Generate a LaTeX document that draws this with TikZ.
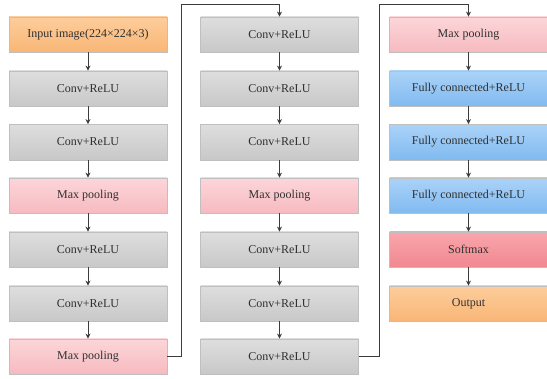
\documentclass[tikz,border=0pt]{standalone}
\usepackage{fontspec}
\setmainfont{Liberation Serif}
\usetikzlibrary{arrows.meta}
\definecolor{gTop}{HTML}{DEDEDE}\definecolor{gBot}{HTML}{C8C8C8}
\definecolor{oTop}{HTML}{FDCD9C}\definecolor{oBot}{HTML}{F9B676}
\definecolor{pTop}{HTML}{FCD6D9}\definecolor{pBot}{HTML}{F6BAC0}
\definecolor{bTop}{HTML}{ABD3F8}\definecolor{bBot}{HTML}{80BAF0}
\definecolor{sTop}{HTML}{F9A6AC}\definecolor{sBot}{HTML}{F18890}
\definecolor{lineC}{HTML}{3C3C3C}
\definecolor{txtC}{HTML}{303030}
\begin{document}
\begin{tikzpicture}[x=1pt,y=-1pt,
  box/.style={rectangle, minimum width=158pt, minimum height=35.5pt, inner sep=0pt,
    font=\fontsize{12}{14}\selectfont, text=txtC, draw=black!25, line width=0.3pt},
  graybox/.style={box, top color=gTop, bottom color=gBot},
  orangebox/.style={box, top color=oTop, bottom color=oBot},
  pinkbox/.style={box, top color=pTop, bottom color=pBot},
  bluebox/.style={box, top color=bTop, bottom color=bBot},
  softbox/.style={box, top color=sTop, bottom color=sBot},
  arr/.style={draw=lineC, line width=0.9pt, -{Stealth[length=5pt,width=5pt]}},
  conn/.style={draw=lineC, line width=0.8pt, -{Stealth[length=5pt,width=5pt]}}]
\useasboundingbox (0,0) rectangle (547,379);
\fill[white] (0,0) rectangle (547,379);
% column 1
\node[orangebox] (a1) at (88,34.5) {Input image(224×224×3)};
\node[graybox] (a2) at (88,88.5) {Conv+ReLU};
\node[graybox] (a3) at (88,142) {Conv+ReLU};
\node[pinkbox] (a4) at (88,195.5) {Max pooling};
\node[graybox] (a5) at (88,249.5) {Conv+ReLU};
\node[graybox] (a6) at (88,303.5) {Conv+ReLU};
\node[pinkbox] (a7) at (88,356.5) {Max pooling};
% column 2
\node[graybox] (b1) at (279.5,34.5) {Conv+ReLU};
\node[graybox] (b2) at (279.5,88.5) {Conv+ReLU};
\node[graybox] (b3) at (279.5,142) {Conv+ReLU};
\node[pinkbox] (b4) at (279.5,195.5) {Max pooling};
\node[graybox] (b5) at (279.5,249.5) {Conv+ReLU};
\node[graybox] (b6) at (279.5,303.5) {Conv+ReLU};
\node[graybox] (b7) at (279.5,356.5) {Conv+ReLU};
% column 3
\node[pinkbox] (c1) at (468.5,34.5) {Max pooling};
\node[bluebox] (c2) at (468.5,88.5) {Fully connected+ReLU};
\node[bluebox] (c3) at (468.5,142) {Fully connected+ReLU};
\node[bluebox] (c4) at (468.5,195.5) {Fully connected+ReLU};
\node[softbox] (c5) at (468.5,249.5) {Softmax};
\node[orangebox] (c6) at (468.5,303.5) {Output};
% arrows
\foreach \p/\n in {a1/a2,a2/a3,a3/a4,a4/a5,a5/a6,a6/a7,
                   b1/b2,b2/b3,b3/b4,b4/b5,b5/b6,b6/b7,
                   c1/c2,c2/c3,c3/c4,c4/c5,c5/c6}
  \draw[arr] (\p.south) -- (\n.north);
% column connectors
\draw[conn] (a7.east) -- (181.5,356.5) -- (181.5,4) -- (b1.north |- 0,4) -- (b1.north);
\draw[conn] (b7.east) -- (379,356.5) -- (379,4) -- (c1.north |- 0,4) -- (c1.north);
\end{tikzpicture}
\end{document}
